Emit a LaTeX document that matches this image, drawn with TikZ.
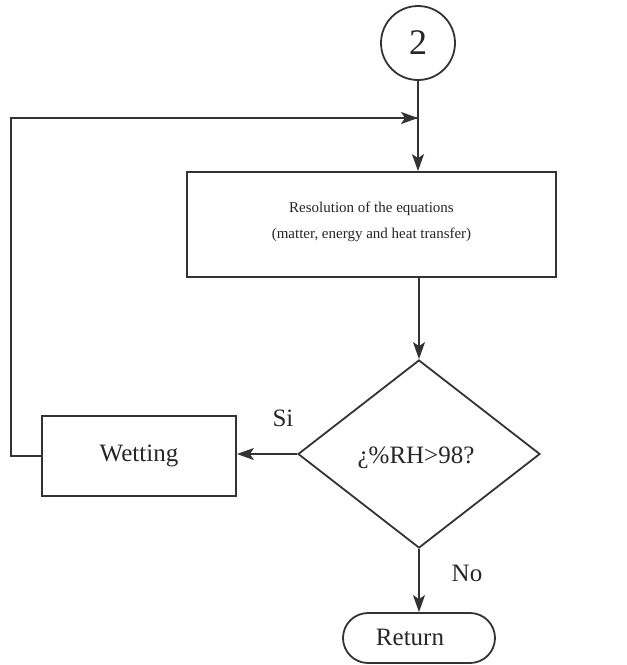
\documentclass[tikz,border=0pt]{standalone}
\usepackage{fontspec}
\setmainfont{Liberation Serif}
\usetikzlibrary{shapes.geometric,shapes.misc,arrows.meta}
\begin{document}
\begin{tikzpicture}[x=1pt,y=-1pt,
  line width=1.8pt,
  every node/.style={text=black!85},
  ln/.style={draw=black!80},
  arr/.style={ln,-{Stealth[length=17pt,width=12pt,inset=4pt]}},
  boxst/.style={draw=black!80,rectangle,inner sep=0pt},
  big/.style={font=\fontsize{25}{28}\selectfont},
  small/.style={font=\fontsize{15}{26}\selectfont}
]
\useasboundingbox (0,0) rectangle (627,665);
\node[draw=black!80,circle,minimum size=74pt,inner sep=0pt,font=\fontsize{36}{38}\selectfont] (c2) at (418,43) {2};
\node[boxst,minimum width=369pt,minimum height=105pt] (res) at (371.5,224.5) {};
\node[small,align=center] (restxt) at (371.5,222) {Resolution of the equations\\(matter, energy and heat transfer)};
\node[draw=black!80,diamond,aspect=1.29,minimum width=242pt,minimum height=188pt,inner sep=0pt] (dec) at (419,454) {};
\node[big] (dectxt) at (416,458) {¿\%RH>98?};
\node[boxst,big,minimum width=194pt,minimum height=80pt] (wet) at (139,456) {Wetting};
\node[draw=black!80,rounded rectangle,minimum width=152pt,minimum height=50pt,inner sep=0pt] (ret) at (419,638) {};
\node[big] (rettxt) at (410,637) {Return};
\node[big] (si) at (283,418) {Si};
\node[big] (no) at (467,573) {No};
\coordinate (join) at (418,118);
\coordinate (lb) at (11,456);
\coordinate (lt) at (11,118);
\draw[arr] (c2.south) -- (res.north -| c2.south);
\draw[arr] (res.south -| dec.north) -- (dec.north);
\draw[arr] (dec.west) -- (wet.east |- dec.west);
\draw[arr] (dec.south) -- (ret.north -| dec.south);
\draw[ln] (wet.west |- lb) -- (lb) -- (lt) -- (join);
\draw[arr] (lt) -- (join);
\end{tikzpicture}
\end{document}
